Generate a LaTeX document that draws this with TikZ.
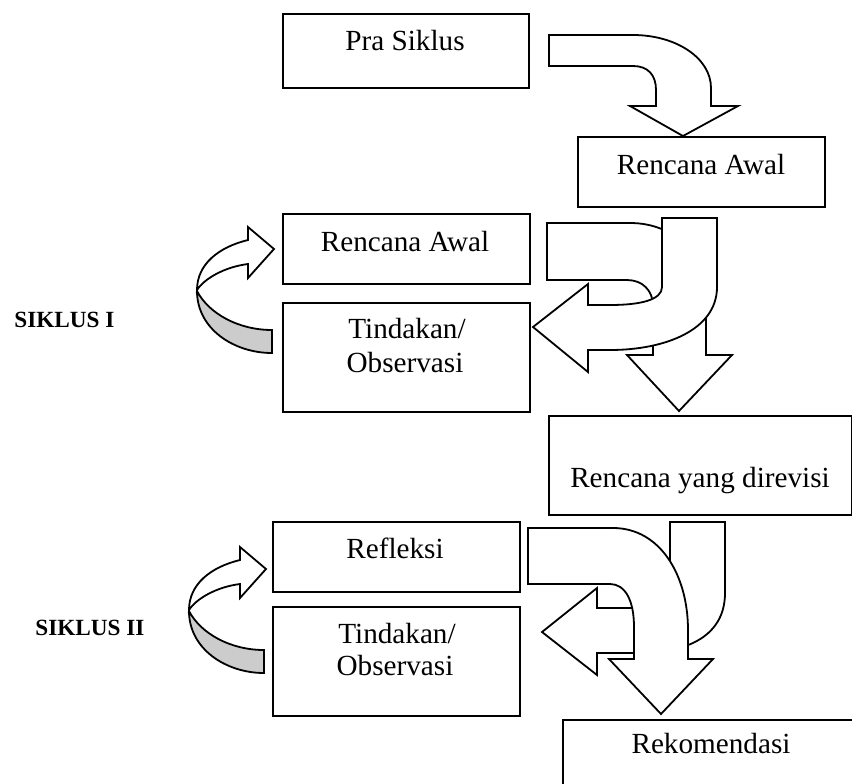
\documentclass[tikz,border=0pt]{standalone}
\usepackage{fontspec}
\setmainfont{Liberation Serif}
\definecolor{ribbon}{RGB}{204,204,204}

\begin{document}
\begin{tikzpicture}[x=0.5pt,y=-0.5pt,
    box/.style={draw,line width=1.2pt,fill=white,anchor=north west,inner sep=0pt},
    txt/.style={anchor=base,inner sep=0pt,font=\fontsize{14.6}{17}\selectfont},
    siklus/.style={anchor=base west,inner sep=0pt,font=\fontsize{11.6}{14}\selectfont\bfseries},
    blok/.style={draw,line width=0.9pt,fill=white,line join=miter},
    putar/.style={draw,line width=0.9pt,line join=miter}]
  \clip (0,0) rectangle (852,783);

  % kotak
  \node[box,minimum width=123pt,minimum height=37pt] (pra) at (282,13) {};
  \node[box,minimum width=123.5pt,minimum height=35pt] (awalA) at (577,136) {};
  \node[box,minimum width=123.5pt,minimum height=35pt] (awalB) at (282,213) {};
  \node[box,minimum width=123.5pt,minimum height=54.5pt] (tindA) at (282,302) {};
  \node[box,minimum width=151.5pt,minimum height=49.5pt] (revisi) at (548,415) {};
  \node[box,minimum width=123.5pt,minimum height=35pt] (refl) at (272,521) {};
  \node[box,minimum width=123.5pt,minimum height=54.5pt] (tindB) at (272,606) {};
  \node[box,minimum width=149.5pt,minimum height=40.5pt] (rekom) at (562,719) {};

  % teks
  \node[txt] (praT) at (405,50) {Pra Siklus};
  \node[txt] (awalAT) at (701,174) {Rencana Awal};
  \node[txt] (awalBT) at (405,251) {Rencana Awal};
  \node[txt] (tindA1) at (407,338) {Tindakan/};
  \node[txt] (tindA2) at (405,372) {Observasi};
  \node[txt] (revisiT) at (700,487) {Rencana yang direvisi};
  \node[txt] (reflT) at (395,558) {Refleksi};
  \node[txt] (tindB1) at (397,643) {Tindakan/};
  \node[txt] (tindB2) at (395,675) {Observasi};
  \node[txt] (rekomT) at (711,753) {Rekomendasi};
  \node[siklus] (sikA) at (14,327) {SIKLUS I};
  \node[siklus] (sikB) at (35,635) {SIKLUS II};

  % panah blok atas
  \draw[blok] (549,35) -- (633,35) .. controls (676,35) and (711,58) .. (711,88)
    -- (711,106) -- (738,106) -- (683,136) -- (630,106) -- (656,106) -- (656,90)
    .. controls (656,75) and (648,66) .. (633,66) -- (549,66) -- cycle;

  % siklus I
  \draw[blok] (547,223) -- (630,223) .. controls (675,223) and (706,255) .. (706,300)
    -- (706,355) -- (732,355) -- (679,411) -- (627,355) -- (653,355) -- (653,306)
    .. controls (653,290) and (642,280) .. (627,280) -- (547,280) -- cycle;
  \draw[blok] (662,218) -- (717,218) -- (717,287) .. controls (717,330) and (665,350) .. (610,350)
    -- (588,350) -- (588,372) -- (533,327) -- (588,284) -- (588,305) -- (610,305)
    .. controls (640,305) and (662,300) .. (662,287) -- cycle;

  % siklus II
  \draw[blok] (670,522) -- (725,522) -- (725,593) .. controls (725,640) and (680,653) .. (640,653)
    -- (597,653) -- (597,675) -- (542,632) -- (597,588) -- (597,608) -- (640,608)
    .. controls (655,608) and (670,603) .. (670,590) -- cycle;
  \draw[blok] (528,528) -- (613,528) .. controls (660,528) and (688,575) .. (688,630)
    -- (688,659) -- (713,659) -- (661,714) -- (609,659) -- (634,659) -- (634,627)
    .. controls (634,600) and (625,584) .. (610,584) -- (528,584) -- cycle;

  % panah melingkar
  \foreach \tx/\ty in {274/249, 266/569} {
    \begin{scope}[shift={(\tx,\ty)}]
      \draw[putar,fill=ribbon] (-77,42) .. controls (-77,80) and (-40,104) .. (-2,104)
        -- (-2,81) .. controls (-35,81) and (-65,65) .. (-77,42) -- cycle;
      \draw[putar,fill=white] (0,0) -- (-26,-22) -- (-26,-9)
        .. controls (-55,-2) and (-77,15) .. (-77,41)
        .. controls (-70,30) and (-50,18) .. (-26,15) -- (-26,29) -- cycle;
    \end{scope}
  }
\end{tikzpicture}
\end{document}
